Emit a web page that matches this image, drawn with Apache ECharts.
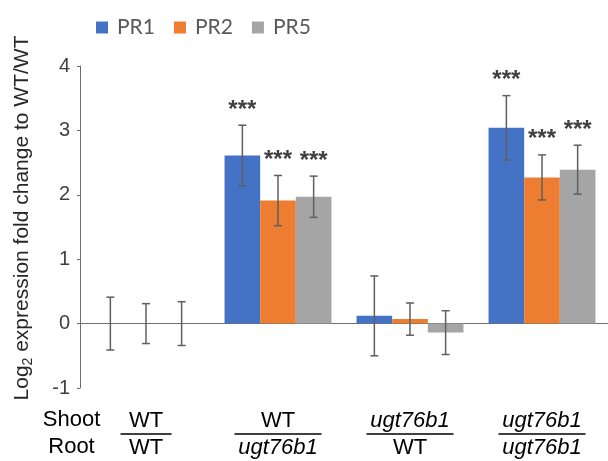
<!DOCTYPE html>
<html>
<head>
<meta charset="utf-8">
<script src="https://cdn.jsdelivr.net/npm/echarts@6/dist/echarts.min.js"></script>
<style>
  html, body { margin: 0; padding: 0; background: #ffffff; }
  #chart { width: 608px; height: 461px; }
</style>
</head>
<body>
<div id="chart"></div>
<script>
// Grafting combinations (shoot / root)
const categories = ['WT/WT', 'WT/ugt76b1', 'ugt76b1/WT', 'ugt76b1/ugt76b1'];
const shootLabels = ['WT', 'WT', 'ugt76b1', 'ugt76b1'];
const rootLabels = ['WT', 'ugt76b1', 'WT', 'ugt76b1'];

// Log2 fold change to WT/WT, with error (±)
const pr1 = [0, 2.61, 0.12, 3.04];
const pr1Err = [0.41, 0.47, 0.62, 0.50];
const pr2 = [0, 1.91, 0.07, 2.27];
const pr2Err = [0.31, 0.39, 0.25, 0.35];
const pr5 = [0, 1.97, -0.14, 2.39];
const pr5Err = [0.34, 0.32, 0.34, 0.38];

// Significance marks
const pr1Sig = ['', '***', '', '***'];
const pr2Sig = ['', '***', '', '***'];
const pr5Sig = ['', '***', '', '***'];

// Y axis ticks
const yMin = -1, yMax = 4, yStep = 1;

const seriesNames = ['PR1', 'PR2', 'PR5'];
const colors = ['#4472C4', '#ED7D31', '#A5A5A5'];
const values = [pr1, pr2, pr5];
const errors = [pr1Err, pr2Err, pr5Err];
const sigs = [pr1Sig, pr2Sig, pr5Sig];

const BAR_CAT_GAP = '19%';
const AXIS_FONT = '"Liberation Sans", Arial, sans-serif';

const chart = echarts.init(document.getElementById('chart'), null, { renderer: 'canvas' });

function errorRenderer(seriesIdx) {
  return function (params, api) {
    const cat = api.value(0);
    const v = api.value(1);
    const e = api.value(2);
    const layout = api.barLayout({ barGap: '0%', barCategoryGap: BAR_CAT_GAP, count: 3 });
    const base = api.coord([cat, v]);
    const x = base[0] + layout[seriesIdx].offsetCenter;
    const yTop = api.coord([cat, v + e])[1];
    const yBot = api.coord([cat, v - e])[1];
    const cap = 4;
    const stroke = { stroke: '#5f5f5f', lineWidth: 1.5 };
    const children = [
      { type: 'line', shape: { x1: x, y1: yTop, x2: x, y2: yBot }, style: stroke },
      { type: 'line', shape: { x1: x - cap, y1: yTop, x2: x + cap, y2: yTop }, style: stroke },
      { type: 'line', shape: { x1: x - cap, y1: yBot, x2: x + cap, y2: yBot }, style: stroke }
    ];
    const mark = sigs[seriesIdx][cat];
    if (mark) {
      children.push({
        type: 'text',
        style: {
          text: mark, x: x, y: yTop - 15,
          align: 'center', verticalAlign: 'middle',
          font: 'bold 24px ' + AXIS_FONT, fill: '#404040'
        }
      });
    }
    return { type: 'group', children: children };
  };
}

const series = [];
seriesNames.forEach(function (name, s) {
  series.push({
    name: name,
    type: 'bar',
    data: values[s],
    barGap: '0%',
    barCategoryGap: BAR_CAT_GAP,
    itemStyle: { color: colors[s] },
    emphasis: { disabled: true },
    z: 2
  });
});
seriesNames.forEach(function (name, s) {
  series.push({
    name: name + ' error',
    type: 'custom',
    xAxisIndex: 0,
    yAxisIndex: 0,
    renderItem: errorRenderer(s),
    data: values[s].map(function (v, i) { return [i, v, errors[s][i]]; }),
    z: 5,
    silent: true
  });
});

const option = {
  animation: false,
  backgroundColor: '#ffffff',
  color: colors,
  legend: {
    data: seriesNames,
    left: 91,
    top: 12,
    icon: 'rect',
    itemWidth: 12,
    itemHeight: 12,
    itemGap: 19,
    textStyle: { fontFamily: 'Lato, sans-serif', fontSize: 21, color: '#595959', padding: [0, 0, 0, 4] }
  },
  grid: { left: 80, right: -8, top: 66, bottom: 73, containLabel: false },
  xAxis: [
    {
      type: 'category',
      data: categories,
      position: 'bottom',
      axisLine: { show: true, onZero: true, lineStyle: { color: '#6d6d6d', width: 1 } },
      axisTick: { show: false },
      axisLabel: { show: false },
      splitLine: { show: false }
    },
    {
      type: 'category',
      data: categories,
      position: 'bottom',
      axisLine: { show: false, onZero: false },
      axisTick: { show: false },
      splitLine: { show: false },
      axisLabel: {
        show: true,
        interval: 0,
        margin: 19,
        formatter: function (val, idx) {
          const s = shootLabels[idx], r = rootLabels[idx];
          const ks = s === 'WT' ? 'n' : 'i';
          const kr = r === 'WT' ? 'n' : 'i';
          return '{' + ks + '|' + s + '}\n{' + kr + '|' + r + '}';
        },
        rich: {
          n: { fontFamily: AXIS_FONT, fontSize: 22, lineHeight: 27, color: '#000000' },
          i: { fontFamily: AXIS_FONT, fontSize: 22, lineHeight: 27, fontStyle: 'italic', color: '#000000' }
        }
      }
    }
  ],
  yAxis: {
    type: 'value',
    min: yMin,
    max: yMax,
    interval: yStep,
    axisLine: { show: true, lineStyle: { color: '#6d6d6d', width: 1 } },
    axisTick: { show: true, inside: false, length: 3, lineStyle: { color: '#6d6d6d' } },
    axisLabel: { fontFamily: AXIS_FONT, fontSize: 20, color: '#404040', margin: 10 },
    splitLine: { show: false }
  },
  series: series
};

chart.setOption(option);

// Fraction lines between shoot and root genotypes, plus row labels and y title
const fracWidths = [51, 87, 87, 87];
const graphics = [];
categories.forEach(function (c, i) {
  const cx = chart.convertToPixel({ xAxisIndex: 0 }, c);
  const w = fracWidths[i];
  graphics.push({
    type: 'line',
    shape: { x1: cx - w / 2, y1: 434, x2: cx + w / 2, y2: 434 },
    style: { stroke: '#000000', lineWidth: 1.3 },
    silent: true
  });
});
graphics.push({
  type: 'text', x: 71.5, y: 420,
  style: { text: 'Shoot', font: '22px ' + AXIS_FONT, fill: '#000000', align: 'center', verticalAlign: 'middle' }
});
graphics.push({
  type: 'text', x: 71.5, y: 447,
  style: { text: 'Root', font: '22px ' + AXIS_FONT, fill: '#000000', align: 'center', verticalAlign: 'middle' }
});
graphics.push({
  type: 'text', x: 22, y: 218, rotation: Math.PI / 2,
  style: {
    text: '{n|Log}{s|2}{n| expression fold change to WT/WT}',
    align: 'center', verticalAlign: 'middle',
    rich: {
      n: { fontFamily: AXIS_FONT, fontSize: 21, lineHeight: 26, fill: '#262626' },
      s: { fontFamily: AXIS_FONT, fontSize: 14, lineHeight: 26, fill: '#262626', verticalAlign: 'bottom', padding: [10, 0, 0, 0] }
    }
  }
});
chart.setOption({ graphic: graphics });
</script>
</body>
</html>
